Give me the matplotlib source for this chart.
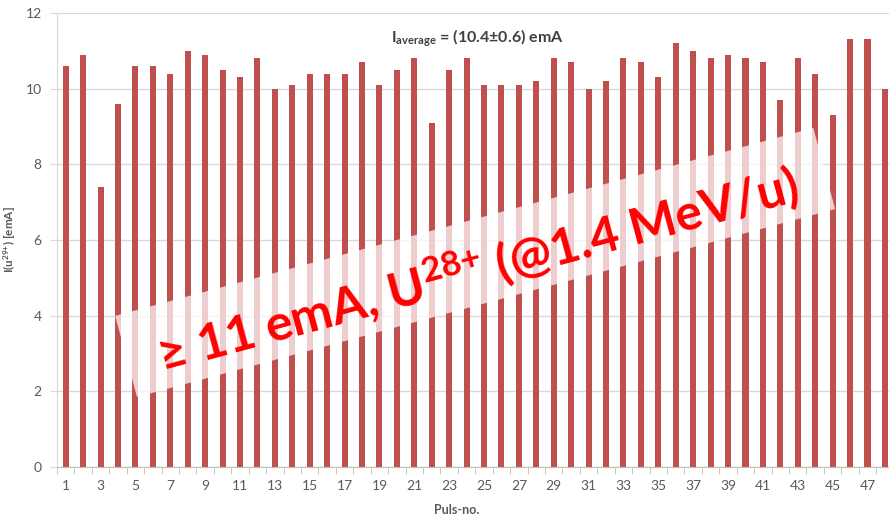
import matplotlib
matplotlib.use('Agg')
import matplotlib.pyplot as plt
from matplotlib.patches import Rectangle
import numpy as np

plt.rcParams['font.family'] = ['Lato', 'DejaVu Sans']
plt.rcParams['mathtext.default'] = 'regular'

# pulse current per pulse number
pulse = np.arange(1, 49)
current = [10.6, 10.9, 7.4, 9.6, 10.6, 10.6, 10.4, 11.0, 10.9, 10.5,
           10.3, 10.8, 10.0, 10.1, 10.4, 10.4, 10.4, 10.7, 10.1, 10.5,
           10.8, 9.1, 10.5, 10.8, 10.1, 10.1, 10.1, 10.2, 10.8, 10.7,
           10.0, 10.2, 10.8, 10.7, 10.3, 11.2, 11.0, 10.8, 10.9, 10.8,
           10.7, 9.7, 10.8, 10.4, 9.3, 11.3, 11.3, 10.0]
yticks = [0, 2, 4, 6, 8, 10, 12]
xtick_labels = pulse[::2]

grey = '#595959'
fig = plt.figure(figsize=(8.89, 5.20), dpi=100)
ax = fig.add_axes([57 / 889, 1 - 467 / 520, 836.6 / 889, 454 / 520])

ax.bar(pulse, current, width=0.35, color='#C0504D', zorder=2)

ax.set_xlim(0.5, 48.5)
ax.set_ylim(0, 12)
ax.set_yticks(yticks)
ax.yaxis.grid(True, color='#D9D9D9', lw=1, zorder=0)
ax.set_xticks(xtick_labels)
ax.set_xticks(np.arange(0.5, 49, 1), minor=True)
ax.tick_params(axis='x', which='major', length=0, pad=9, labelsize=10, labelcolor=grey)
ax.tick_params(axis='x', which='minor', length=5, color='#BFBFBF')
ax.tick_params(axis='y', length=5, color='#D9D9D9', labelsize=10, labelcolor=grey, pad=6)
for s in ['top', 'right']:
    ax.spines[s].set_visible(False)
ax.spines['left'].set_color('#D9D9D9')
ax.spines['bottom'].set_color('#BFBFBF')

ax.set_xlabel('Puls-no.', fontsize=9, fontweight='bold', color=grey)
ax.xaxis.set_label_coords(0.478, -0.082)
ax.set_ylabel('I(u$^{29{+}}$) [emA]', fontsize=8.5, fontweight='bold', color=grey)
ax.yaxis.set_label_coords(-0.047, 0.5)

ax.text(0.503, 0.945, 'I$_{average}$ = (10.4±0.6) emA',
        transform=ax.transAxes, ha='center', va='center', fontsize=11.5,
        fontweight='bold', color='#404040')

# highlighted banner across the bars
banner = Rectangle((1.37, 1.23), 7.23, 0.84, angle=15.07, transform=fig.dpi_scale_trans,
                   facecolor='white', edgecolor='none', alpha=0.72, zorder=5)
fig.patches.append(banner)
fig.text(4.78, 2.50, '≥ 11 emA, U$^{28{+}}$ (@1.4 MeV/u)', transform=fig.dpi_scale_trans,
         rotation=15.07, rotation_mode='anchor', ha='center', va='center',
         fontsize=36, fontweight='bold', color='#FF0000', zorder=6)

fig.savefig('out.png', dpi=100)
